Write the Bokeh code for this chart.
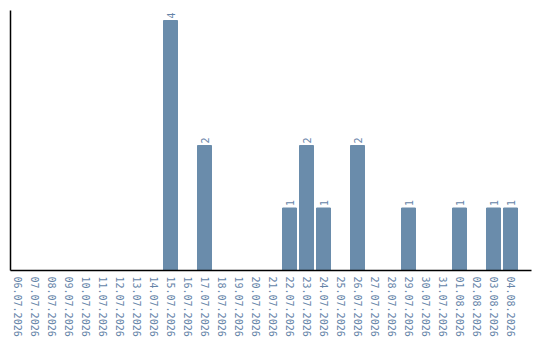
from math import pi

from bokeh.plotting import figure
from bokeh.models import Range1d, FixedTicker, ColumnDataSource
from bokeh.core.properties import value
from bokeh.embed import file_html
from bokeh.resources import INLINE

# Daily counts
dates = [
    "06.07.2026", "07.07.2026", "08.07.2026", "09.07.2026", "10.07.2026",
    "11.07.2026", "12.07.2026", "13.07.2026", "14.07.2026", "15.07.2026",
    "16.07.2026", "17.07.2026", "18.07.2026", "19.07.2026", "20.07.2026",
    "21.07.2026", "22.07.2026", "23.07.2026", "24.07.2026", "25.07.2026",
    "26.07.2026", "27.07.2026", "28.07.2026", "29.07.2026", "30.07.2026",
    "31.07.2026", "01.08.2026", "02.08.2026", "03.08.2026", "04.08.2026",
]
counts = [
    0, 0, 0, 0, 0,
    0, 0, 0, 0, 4,
    0, 2, 0, 0, 0,
    0, 1, 2, 1, 0,
    2, 0, 0, 1, 0,
    0, 1, 0, 1, 1,
]

BAR_COLOR = "#6a8cab"
TEXT_COLOR = "#6584a8"
FONT = "DejaVu Sans Mono"

positions = list(range(len(dates)))

p = figure(
    width=540, height=340,
    x_range=Range1d(-0.412, 30.235),
    y_range=Range1d(0, 4.16),
    output_backend="svg",
    toolbar_location=None,
    min_border_left=10, min_border_right=9,
    min_border_top=10, min_border_bottom=70,
)
p.outline_line_color = None
p.xgrid.visible = False
p.ygrid.visible = False
p.background_fill_color = "white"
p.border_fill_color = "white"

src = ColumnDataSource(dict(
    x=[i for i, c in zip(positions, counts) if c > 0],
    top=[c for c in counts if c > 0],
    label=[str(c) for c in counts if c > 0],
))

p.vbar(x="x", top="top", width=14 / 17, color=BAR_COLOR, source=src)

# value labels above each bar, reading upward
p.text(x="x", y="top", text="label", source=src,
       angle=pi / 2, x_offset=0, y_offset=-2,
       text_align="left", text_baseline="middle",
       text_font=value(FONT), text_font_size="10px", text_color=TEXT_COLOR)

xa = p.xaxis[0]
xa.ticker = FixedTicker(ticks=positions)
xa.major_label_overrides = {i: d for i, d in zip(positions, dates)}
xa.major_label_orientation = "vertical"
xa.major_label_text_font = FONT
xa.major_label_text_font_size = "10px"
xa.major_label_text_color = TEXT_COLOR
xa.major_tick_line_color = None
xa.minor_tick_line_color = None
xa.major_tick_out = 0
xa.major_label_standoff = 6
xa.axis_line_color = "black"
xa.axis_line_width = 1.5

# plain vertical line on the left, no ticks or labels
ya = p.yaxis[0]
ya.ticker = FixedTicker(ticks=[])
ya.major_tick_line_color = None
ya.minor_tick_line_color = None
ya.major_tick_out = 0
ya.major_label_standoff = 0
ya.axis_line_color = "black"
ya.axis_line_width = 1.5

open("out.html", "w").write(file_html(p, INLINE))
